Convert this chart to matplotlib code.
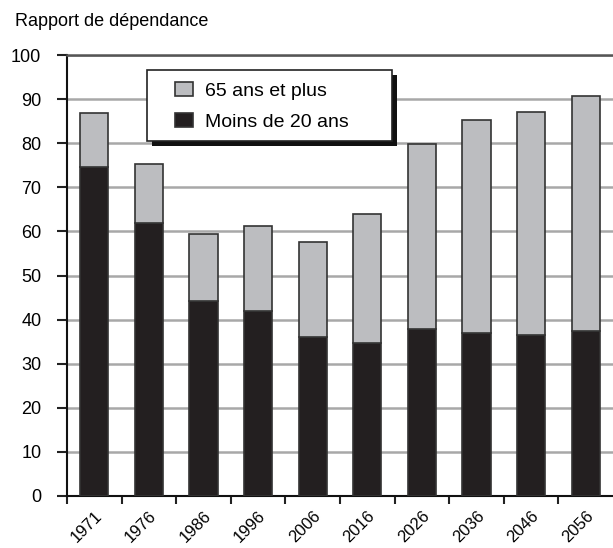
import numpy as np
import matplotlib.pyplot as plt
import matplotlib.transforms as mtransforms
from matplotlib.patches import Patch, Rectangle

plt.rcParams['font.family'] = ['Liberation Sans', 'DejaVu Sans']

years = ['1971', '1976', '1986', '1996', '2006', '2016', '2026', '2036', '2046', '2056']
moins_20 = [74.6, 62.0, 44.2, 41.9, 36.1, 34.6, 37.9, 36.9, 36.4, 37.4]
total = [86.8, 75.3, 59.4, 61.2, 57.7, 63.9, 79.8, 85.2, 87.1, 90.6]
plus_65 = [t - m for t, m in zip(total, moins_20)]

black = '#231f20'
grey = '#bcbdc0'
edge = '#333333'

fig = plt.figure(figsize=(6.13, 5.48), dpi=100)
ax = fig.add_axes([0.1093, 0.0949, 0.8907, 0.8047])

x = np.arange(len(years))
ax.bar(x, moins_20, width=0.52, color=black, edgecolor=edge, linewidth=1.2, zorder=3)
ax.bar(x, plus_65, width=0.52, bottom=moins_20, color=grey, edgecolor=edge, linewidth=1.2, zorder=3)

ax.set_xlim(-0.5, len(years) - 0.5)
ax.set_ylim(0, 100)
ax.set_yticks(np.arange(0, 101, 10))
ax.grid(axis='y', color='#a8a8a8', linewidth=1.8, zorder=0)

# ticks between bars, labels under bars
ax.set_xticks(x)
ax.set_xticklabels(years, rotation=45, ha='right', va='top', rotation_mode='anchor', fontsize=12)
shift = mtransforms.ScaledTranslation(7 / 100, 0, fig.dpi_scale_trans)
for lab in ax.get_xticklabels():
    lab.set_transform(lab.get_transform() + shift)
ax.set_xticks(np.arange(-0.5, len(years) - 0.5, 1), minor=True)
ax.tick_params(axis='x', which='major', length=0, pad=9)
ax.tick_params(axis='x', which='minor', length=6, width=1.5, color='#222222', direction='out')
ax.tick_params(axis='y', length=7, width=1.5, color='#222222', labelsize=13, pad=11.5)

ax.spines['right'].set_visible(False)
ax.spines['top'].set_color('#555555')
ax.spines['top'].set_linewidth(1.8)
for s in ['left', 'bottom']:
    ax.spines[s].set_linewidth(1.5)
    ax.spines[s].set_color('#111111')

# legend box with drop shadow
x0, x1, y0, y1 = 0.1465, 0.5952, 0.805, 0.966
ax.add_patch(Rectangle((x0 + 0.0092, y0 - 0.0113), x1 - x0, y1 - y0, transform=ax.transAxes,
                       facecolor='#111111', edgecolor='none', zorder=5))
ax.add_patch(Rectangle((x0, y0), x1 - x0, y1 - y0, transform=ax.transAxes,
                       facecolor='white', edgecolor='#222222', linewidth=1.2, zorder=6))

handles = [Patch(facecolor=grey, edgecolor=edge, linewidth=1.2, label='65 ans et plus'),
           Patch(facecolor=black, edgecolor=edge, linewidth=1.2, label='Moins de 20 ans')]
leg = ax.legend(handles=handles, loc='upper left', bbox_to_anchor=(0.1978, 0.939),
                fontsize=14, frameon=False, borderaxespad=0, borderpad=0,
                handlelength=0.95, handleheight=0.7, handletextpad=0.6,
                labelspacing=0.7)
leg.set_zorder(7)

fig.text(0.0245, 0.96, 'Rapport de dépendance', fontsize=13, ha='left', va='center')

fig.savefig('out.png', dpi=100)
